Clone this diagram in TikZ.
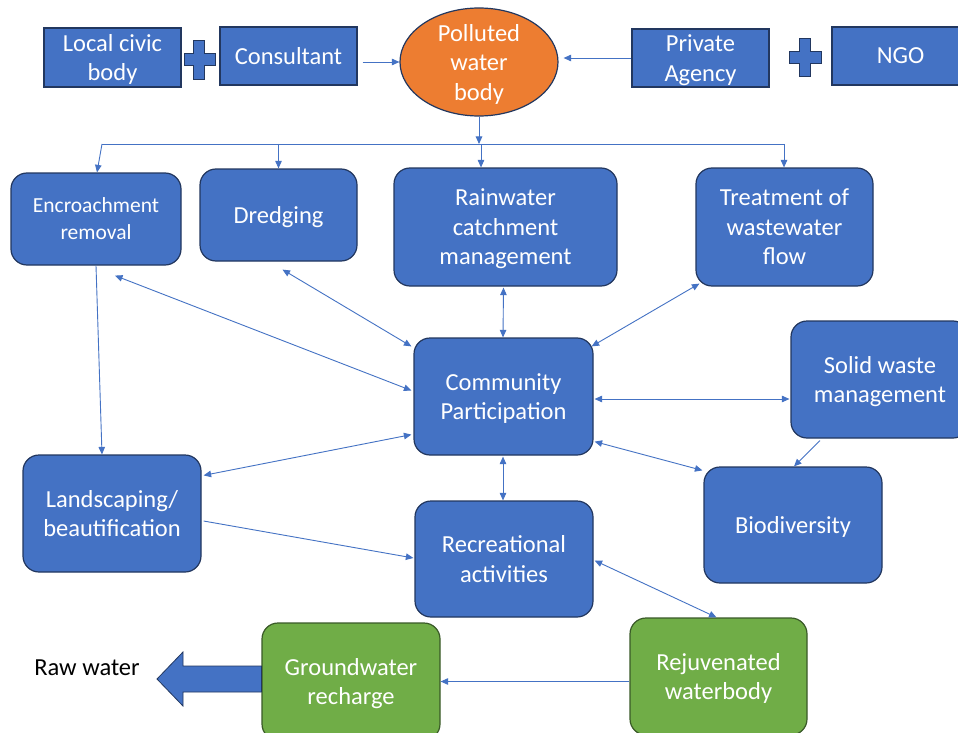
\documentclass[tikz,border=0pt]{standalone}
\usepackage{fontspec}
\setmainfont{Carlito}
\usetikzlibrary{shapes.geometric,arrows.meta,calc}
\definecolor{bfill}{HTML}{4472C4}
\definecolor{bline}{HTML}{22375F}
\definecolor{gfill}{HTML}{70AD47}
\definecolor{gline}{HTML}{3A5A28}
\definecolor{ofill}{HTML}{ED7D31}
\tikzset{
  base/.style={text=white, align=center, inner sep=0pt, text depth=0pt, font=\fontsize{24.5}{29.5}\selectfont, line width=1.2pt},
  sqbox/.style={base, rectangle, draw=bline, fill=bfill},
  rbox/.style={base, rectangle, rounded corners=16pt, draw=bline, fill=bfill},
  gbox/.style={base, rectangle, rounded corners=16pt, draw=gline, fill=gfill},
  conn/.style={draw=bfill, line width=0.9pt},
  one/.style={conn, -{Triangle[length=7.5pt,width=6.5pt]}},
  two/.style={conn, {Triangle[length=7.5pt,width=6.5pt]}-{Triangle[length=7.5pt,width=6.5pt]}},
  plusshape/.style={fill=bfill, draw=bline, line width=1pt},
}
\begin{document}
\begin{tikzpicture}[x=1pt,y=-1pt]
\useasboundingbox (0,0) rectangle (958,733);
\clip (0,0) rectangle (958,733);
\fill[white] (0,0) rectangle (958,733);

% top row
\node[sqbox, minimum width=137pt, minimum height=59pt] (lcb) at (112.5,57.5) {Local civic\\body};
\node[sqbox, minimum width=137pt, minimum height=58pt] (cons) at (288.5,56) {Consultant};
\node[ellipse, draw=bline, fill=ofill, line width=1.2pt, minimum width=158pt, minimum height=108pt, inner sep=0pt] (poll) at (479,62) {};
\node[base] (pollt) at (poll.center) {Polluted\\water\\body};
\node[sqbox, minimum width=137pt, minimum height=58pt] (priv) at (700.5,58) {Private\\Agency};
\node[sqbox, minimum width=137pt, minimum height=58pt] (ngo) at (900.5,56) {NGO};

% plus signs
\draw[plusshape] (193.5,41) -- (204.5,41) -- (204.5,54) -- (215,54) -- (215,66) -- (204.5,66) -- (204.5,80) -- (193.5,80) -- (193.5,66) -- (184,66) -- (184,54) -- (193.5,54) -- cycle;
\draw[plusshape] (799.5,39) -- (810.5,39) -- (810.5,52) -- (821,52) -- (821,64) -- (810.5,64) -- (810.5,77) -- (799.5,77) -- (799.5,64) -- (789,64) -- (789,52) -- (799.5,52) -- cycle;

% second row
\node[rbox, minimum width=170pt, minimum height=92pt, font=\fontsize{21.5}{27}\selectfont] (enc) at (96,219) {Encroachment\\removal};
\node[rbox, minimum width=157pt, minimum height=92pt] (dre) at (278.5,215) {Dredging};
\node[rbox, minimum width=223pt, minimum height=118pt] (rain) at (505.5,227) {Rainwater\\catchment\\management};
\node[rbox, minimum width=177pt, minimum height=118pt] (treat) at (784.5,227) {Treatment of\\wastewater\\flow};

% middle
\node[rbox, minimum width=179pt, minimum height=117pt] (comm) at (503.5,396.5) {Community\\Participation};
\node[rbox, minimum width=178pt, minimum height=117pt] (solid) at (880,379.5) {Solid waste\\management};
\node[rbox, minimum width=178pt, minimum height=117pt] (land) at (112,513.5) {Landscaping/\\beautification};
\node[rbox, minimum width=178pt, minimum height=116pt] (rec) at (504,559) {Recreational\\activities};
\node[rbox, minimum width=178pt, minimum height=116pt] (bio) at (793,525) {Biodiversity};

% bottom
\node[gbox, minimum width=178pt, minimum height=117pt] (gw) at (351,681.5) {Groundwater\\recharge};
\node[gbox, minimum width=177pt, minimum height=117pt] (rej) at (718.5,676.5) {Rejuvenated\\waterbody};
\node[font=\fontsize{24.5}{29.5}\selectfont, text=black, inner sep=0pt] (raw) at (87,668) {Raw water};

% big arrow
\draw[fill=bfill, draw=bline, line width=0.8pt] (gw.west |- 0,666) -- (183,666) -- (183,652) -- (157,679) -- (183,706) -- (183,692) -- (gw.west |- 0,692) -- cycle;

% connectors top
\draw[one] ($(cons.east |- poll.west)+(5,0)$) -- (poll.west);
\draw[one] (priv.west) -- ($(poll.east |- priv.west)+(5,0)$);
\coordinate (j) at (479,144);
\coordinate (jl) at (102,144);
\coordinate (jr) at (784,144);
\coordinate (jc) at (481,144);
\draw[one] (poll.south) -- (j);
\draw[conn] (jl) -- (jr);
\draw[one] (jl) -- ($(enc.north)+(1,0)$);
\draw[one] (dre.north |- j) -- (dre.north);
\draw[one] (jc) -- (rain.north -| jc);
\draw[one] (jr) -- (treat.north -| jr);

% connectors middle
\draw[two] ($(enc.south)+(19,10)$) -- ($(comm.west)+(-2,-6)$);
\draw[two] ($(dre.south)+(4,8)$) -- ($(comm.north west)+(-2,9)$);
\draw[two] ($(rain.south)+(-2,1)$) -- ($(comm.north)+(-0.5,0)$);
\draw[two] ($(treat.south west)+(4,-3)$) -- ($(comm.north east)+(-2,9)$);
\draw[two] ($(comm.east)+(1,2.5)$) -- ($(solid.west)+(-1,19.5)$);
\draw[one] ($(solid.south)+(-60,2)$) -- ($(bio.north)+(1,0)$);
\draw[two] ($(comm.south east)+(1,-14)$) -- ($(bio.north west)+(-1,4)$);
\draw[two] ($(comm.south)+(-0.5,1)$) -- ($(rec.north)+(-1,0)$);
\draw[two] ($(land.north east)+(2,21)$) -- ($(comm.south west)+(-2,-21)$);
\draw[one] ($(land.east)+(2,7.5)$) -- ($(rec.west)+(-1,-1)$);
\draw[one] (enc.south) -- ($(land.north)+(-10,0)$);
\draw[two] ($(rec.east)+(1,1.5)$) -- ($(rej.north)+(-2,0)$);
\draw[one] (rej.west |- gw.east) -- (gw.east);
\end{tikzpicture}
\end{document}
